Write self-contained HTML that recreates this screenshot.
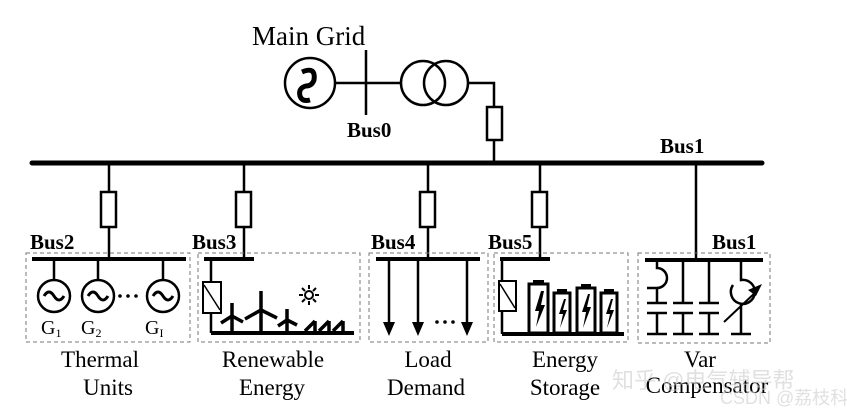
<!DOCTYPE html>
<html><head><meta charset="utf-8"><style>body{margin:0;background:#fff}svg{display:block}</style></head><body>
<svg width="847" height="412" viewBox="0 0 847 412" xmlns="http://www.w3.org/2000/svg" font-family="Liberation Serif, serif">
<g stroke="#000" fill="none" stroke-width="2.5">
<circle cx="310" cy="83" r="25"/>
<path d="M302 72 q14 -6 12 8 q-2 6 -8 6 q-8 2 -6 10 q2 6 10 4" stroke-width="5"/>
<line x1="335" y1="83" x2="400" y2="83"/>
<line x1="366" y1="50" x2="366" y2="115"/>
<circle cx="423" cy="83" r="22"/><circle cx="446" cy="83" r="22"/>
<polyline points="468,83 494,83 494,163"/>
<rect x="487" y="107" width="15" height="33" fill="#fff"/>
<line x1="32" y1="163" x2="762" y2="163" stroke-width="5" stroke-linecap="round"/>
<line x1="109" y1="163" x2="109" y2="259"/><rect x="101" y="192" width="15" height="35" fill="#fff"/>
<line x1="244" y1="163" x2="244" y2="259"/><rect x="236" y="192" width="15" height="35" fill="#fff"/>
<line x1="428" y1="163" x2="428" y2="259"/><rect x="420" y="192" width="15" height="35" fill="#fff"/>
<line x1="540" y1="163" x2="540" y2="259"/><rect x="532" y="192" width="15" height="35" fill="#fff"/>
<line x1="696" y1="163" x2="696" y2="259"/>
<g stroke="#777" stroke-width="1" stroke-dasharray="4,3">
<rect x="26" y="253" width="164" height="89"/>
<rect x="198" y="253" width="162" height="89"/>
<rect x="369" y="253" width="119" height="89"/>
<rect x="494" y="253" width="134" height="89"/>
<rect x="638" y="253" width="132" height="90"/>
</g>
<line x1="32" y1="259" x2="186" y2="259" stroke-width="4"/>
<line x1="54" y1="259" x2="54" y2="280"/><line x1="98" y1="259" x2="98" y2="280"/><line x1="163" y1="259" x2="163" y2="280"/>
<circle cx="54" cy="296" r="16"/><circle cx="98" cy="296" r="16"/><circle cx="163" cy="296" r="16"/>
<path d="M44 296 q5 -8 10 0 q5 8 10 0 M88 296 q5 -8 10 0 q5 8 10 0 M153 296 q5 -8 10 0 q5 8 10 0" stroke-width="3"/>
<line x1="204" y1="259" x2="254" y2="259" stroke-width="4"/>
<line x1="211" y1="259" x2="211" y2="333"/>
<rect x="203" y="282" width="18" height="31" fill="#fff" stroke-width="2"/>
<line x1="204" y1="285" x2="220" y2="310" stroke-width="1.5"/>
<line x1="211" y1="333" x2="354" y2="333" stroke-width="4"/>
<g stroke-width="3.5">
<line x1="232" y1="333" x2="232" y2="316"/><line x1="232" y1="316" x2="232" y2="303"/><line x1="232" y1="316" x2="221" y2="323"/><line x1="232" y1="316" x2="243" y2="322"/>
<line x1="261" y1="333" x2="261" y2="310"/><line x1="261" y1="310" x2="261" y2="291"/><line x1="261" y1="310" x2="245" y2="319"/><line x1="261" y1="310" x2="277" y2="318"/>
<line x1="287" y1="333" x2="287" y2="320"/><line x1="287" y1="320" x2="287" y2="309"/><line x1="287" y1="320" x2="278" y2="326"/><line x1="287" y1="320" x2="297" y2="325"/>
<path d="M305 331 l10 -10 M315 331 l0 -10 M319 331 l10 -10 M329 331 l0 -10 M333 331 l10 -10 M343 331 l0 -10"/>
</g>
<circle cx="309" cy="295" r="4" stroke-width="2"/>
<path d="M309 285v4M309 301v4M299 295h4M315 295h4M302 288l3 3M313 299l3 3M316 288l-3 3M302 302l3 -3" stroke-width="2"/>
<line x1="376" y1="259" x2="480" y2="259" stroke-width="4"/>
<line x1="389" y1="259" x2="389" y2="322"/><line x1="418" y1="259" x2="418" y2="322"/><line x1="467" y1="259" x2="467" y2="322"/>
<line x1="500" y1="259" x2="550" y2="259" stroke-width="4"/>
<line x1="502" y1="259" x2="502" y2="334"/>
<rect x="499" y="281" width="17" height="30" fill="#fff" stroke-width="2"/>
<line x1="500" y1="284" x2="515" y2="308" stroke-width="1.5"/>
<line x1="502" y1="334" x2="624" y2="334" stroke-width="4"/>
<g stroke-width="3">
<rect x="529" y="284" width="19" height="49"/><rect x="554" y="293" width="16" height="40"/><rect x="577" y="288" width="18" height="45"/><rect x="601" y="293" width="16" height="40"/>
</g>
<line x1="645" y1="260" x2="763" y2="260" stroke-width="4"/>
<path d="M657 260 v8 a10 10 0 0 1 0 20 v15 M647 288 h10 M683 260 v43 M709 260 v43 M741 260 v20 a12 12 0 1 1 -8 5 M741 303 v31"/>
<path d="M647 303h20M647 313h20M657 313v21M647 334h20 M673 303h20M673 313h20M683 313v21M673 334h20 M699 303h20M699 313h20M709 313v21M699 334h20 M731 334h20"/>
<line x1="724" y1="322" x2="758" y2="290" stroke-width="2"/>
</g>
<g fill="#000">
<polygon points="383,322 395,322 389,336"/><polygon points="412,322 424,322 418,336"/><polygon points="461,322 473,322 467,336"/>
<polygon points="762,284 748,290 756,296"/>
<circle cx="120" cy="296" r="1.8"/><circle cx="128" cy="296" r="1.8"/><circle cx="136" cy="296" r="1.8"/>
<circle cx="437" cy="322" r="1.8"/><circle cx="445" cy="322" r="1.8"/><circle cx="453" cy="322" r="1.8"/>
<polygon points="541,291 535,311 539,311 536,327 545,305 541,305 544,291"/>
<polygon points="564,299 559,314 563,314 560,328 567,310 563,310 566,299"/>
<polygon points="588,294 582,312 586,312 583,328 591,307 587,307 590,294"/>
<polygon points="611,299 606,314 610,314 607,328 614,310 610,310 613,299"/>
<rect x="533" y="280" width="11" height="4"/><rect x="557" y="289" width="10" height="4"/><rect x="581" y="284" width="10" height="4"/><rect x="604" y="289" width="10" height="4"/>
</g>
<g font-size="27"><text x="252" y="45">Main Grid</text></g>
<g font-weight="bold" font-size="21">
<text x="347" y="137">Bus0</text><text x="660" y="153">Bus1</text>
<text x="30" y="249">Bus2</text><text x="192" y="249">Bus3</text><text x="371" y="249">Bus4</text><text x="488" y="249">Bus5</text><text x="712" y="249">Bus1</text>
</g>
<g font-size="20"><text x="41" y="334">G<tspan font-size="12" dy="3">1</tspan></text><text x="81" y="334">G<tspan font-size="12" dy="3">2</tspan></text><text x="145" y="334">G<tspan font-size="12" dy="3">I</tspan></text></g>
<g font-size="23" text-anchor="middle">
<text x="100" y="367">Thermal</text><text x="108" y="395">Units</text>
<text x="273" y="367">Renewable</text><text x="272" y="395">Energy</text>
<text x="428" y="367">Load</text><text x="426" y="395">Demand</text>
<text x="565" y="367">Energy</text><text x="565" y="395">Storage</text>
<text x="700" y="367">Var</text><text x="707" y="393">Compensator</text>
</g>
<g font-family="Liberation Sans, Noto Sans CJK SC, sans-serif" fill="#ccc" fill-opacity="0.6">
<text x="612" y="388" font-size="22">知乎 @电气辅导帮</text>
<text x="720" y="404" font-size="18">CSDN @荔枝科研社</text>
</g>
</svg>
</body></html>
